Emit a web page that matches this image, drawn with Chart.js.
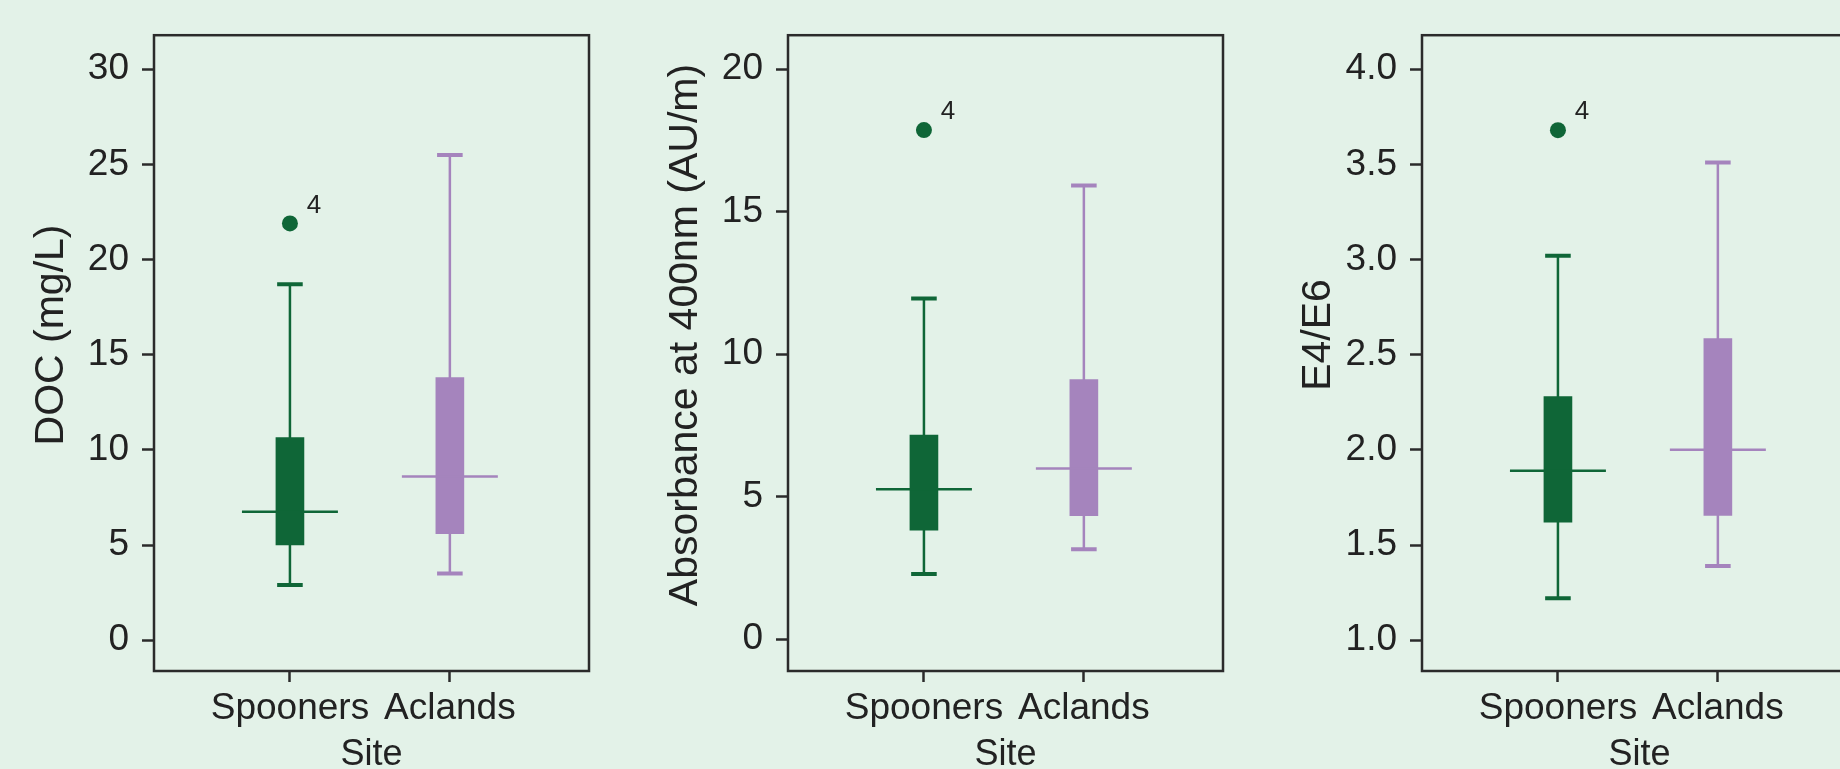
<!DOCTYPE html>
<html>
<head>
<meta charset="utf-8">
<script src="https://cdn.jsdelivr.net/npm/chart.js@4.4.1/dist/chart.umd.min.js"></script>
<style>
  html, body { margin: 0; padding: 0; background: #e3f2e8; overflow: hidden; }
  #wrap { position: relative; width: 1840px; height: 769px; overflow: hidden; }
  .panel { position: absolute; top: 0; width: 634px; height: 769px; }
</style>
</head>
<body>
<div id="wrap">
  <div class="panel" style="left:0"><canvas id="docChart"></canvas></div>
  <div class="panel" style="left:634px"><canvas id="absChart"></canvas></div>
  <div class="panel" style="left:1268px"><canvas id="e4Chart"></canvas></div>
</div>
<script>
const sites = ['Spooners', 'Aclands'];

// [lower whisker, Q1, median, Q3, upper whisker]
const docSpooners = [2.9, 5.0, 6.75, 10.65, 18.7];
const docAclands = [3.5, 5.6, 8.6, 13.8, 25.5];
const docOutliers = [21.9];
const docTicks = [0, 5, 10, 15, 20, 25, 30];

const absSpooners = [2.28, 3.82, 5.26, 7.16, 11.95];
const absAclands = [3.15, 4.33, 5.99, 9.11, 15.92];
const absOutliers = [17.86];
const absTicks = [0, 5, 10, 15, 20];

const e4Spooners = [1.22, 1.62, 1.89, 2.28, 3.02];
const e4Aclands = [1.39, 1.655, 2.0, 2.585, 3.51];
const e4Outliers = [3.68];
const e4Ticks = [1.0, 1.5, 2.0, 2.5, 3.0, 3.5, 4.0];

const outlierLabels = ['4'];

const GREEN = '#0f6637';
const PURPLE = '#a584bd';
const INK = '#2b2b2b';
const CAP_HALF = 0.08;
const MEDIAN_HALF = 0.3;

Chart.defaults.font.family = '"Liberation Sans", Arial, sans-serif';
Chart.defaults.color = '#222';

const frame = {
  id: 'frame',
  afterDraw(chart) {
    const a = chart.chartArea, ctx = chart.ctx;
    ctx.save();
    ctx.strokeStyle = INK;
    ctx.lineWidth = 2.5;
    ctx.strokeRect(a.left, a.top, a.right - a.left, a.bottom - a.top);
    ctx.restore();
  }
};

const yTitle = {
  id: 'yTitle',
  afterDraw(chart, args, opts) {
    const ctx = chart.ctx;
    ctx.save();
    ctx.translate(opts.x, opts.y);
    ctx.rotate(-Math.PI / 2);
    ctx.font = '41px "Liberation Sans", Arial, sans-serif';
    ctx.fillStyle = '#222';
    ctx.textAlign = 'center';
    ctx.textBaseline = 'middle';
    ctx.fillText(opts.text, 0, 0);
    ctx.restore();
  }
};

const outlierText = {
  id: 'outlierText',
  afterDatasetsDraw(chart) {
    const ctx = chart.ctx;
    chart.data.datasets.forEach((ds, i) => {
      if (!ds.labels) return;
      chart.getDatasetMeta(i).data.forEach((pt, j) => {
        ctx.save();
        ctx.font = '26px "Liberation Sans", Arial, sans-serif';
        ctx.fillStyle = '#222';
        ctx.textAlign = 'center';
        ctx.textBaseline = 'middle';
        ctx.fillText(ds.labels[j], pt.x + 24, pt.y - 18);
        ctx.restore();
      });
    });
  }
};

function seg(x1, x2, y1, y2, color, width) {
  return {
    type: 'scatter', showLine: true, order: 3,
    data: [{ x: x1, y: y1 }, { x: x2, y: y2 }],
    borderColor: color, borderWidth: width, pointRadius: 0
  };
}

function boxDatasets(stats, x, color) {
  const [lo, q1, med, q3, hi] = stats;
  const median = seg(x - MEDIAN_HALF, x + MEDIAN_HALF, med, med, color, 2.5);
  median.order = 1;
  return [
    seg(x, x, lo, hi, color, 2.5),
    seg(x - CAP_HALF, x + CAP_HALF, lo, lo, color, 4),
    seg(x - CAP_HALF, x + CAP_HALF, hi, hi, color, 4),
    median
  ];
}

function makeChart(id, spooners, aclands, outliers, ticks, yMin, yMax, title, titleX, digits) {
  const datasets = [
    ...boxDatasets(spooners, 0, GREEN),
    ...boxDatasets(aclands, 1, PURPLE),
    {
      type: 'bar', order: 2, grouped: false,
      data: [{ x: 0, y: [spooners[1], spooners[3]] }, { x: 1, y: [aclands[1], aclands[3]] }],
      backgroundColor: [GREEN, PURPLE],
      barThickness: 28, borderWidth: 0
    },
    {
      type: 'scatter', order: 0,
      data: outliers.map(v => ({ x: 0, y: v })),
      labels: outlierLabels,
      pointRadius: 8, pointBackgroundColor: GREEN, pointBorderWidth: 0
    }
  ];

  new Chart(document.getElementById(id), {
    type: 'scatter',
    data: { datasets },
    plugins: [frame, yTitle, outlierText],
    options: {
      responsive: true,
      maintainAspectRatio: false,
      animation: false,
      layout: { padding: { top: 33, right: 45, left: 0, bottom: 0 } },
      plugins: {
        legend: { display: false },
        tooltip: { enabled: false },
        yTitle: { text: title, x: titleX, y: 335 }
      },
      scales: {
        x: {
          type: 'linear', min: -0.85, max: 1.87, offset: false,
          afterBuildTicks: axis => { axis.ticks = [{ value: 0 }, { value: 1 }]; },
          afterFit: axis => { axis.height = 98; },
          ticks: { callback: v => sites[v], font: { size: 37 }, padding: 5, maxRotation: 0, color: '#222' },
          grid: { offset: false, drawOnChartArea: false, tickLength: 11, tickWidth: 2.5, color: INK },
          border: { display: false },
          title: { display: true, text: 'Site', font: { size: 36, lineHeight: 0.75 }, padding: 0, color: '#222' }
        },
        y: {
          min: yMin, max: yMax,
          afterBuildTicks: axis => { axis.ticks = ticks.map(v => ({ value: v })); },
          afterFit: axis => { axis.width = 154; },
          ticks: { callback: v => v.toFixed(digits), font: { size: 37 }, padding: 13, color: '#222' },
          grid: { drawOnChartArea: false, tickLength: 12, tickWidth: 2.5, color: INK },
          border: { display: false }
        }
      }
    }
  });
}

makeChart('docChart', docSpooners, docAclands, docOutliers, docTicks, -1.62, 31.79, 'DOC (mg/L)', 52, 0);
makeChart('absChart', absSpooners, absAclands, absOutliers, absTicks, -1.12, 21.19, 'Absorbance at 400nm (AU/m)', 52, 0);
makeChart('e4Chart', e4Spooners, e4Aclands, e4Outliers, e4Ticks, 0.838, 4.179, 'E4/E6', 51, 1);
</script>
</body>
</html>
